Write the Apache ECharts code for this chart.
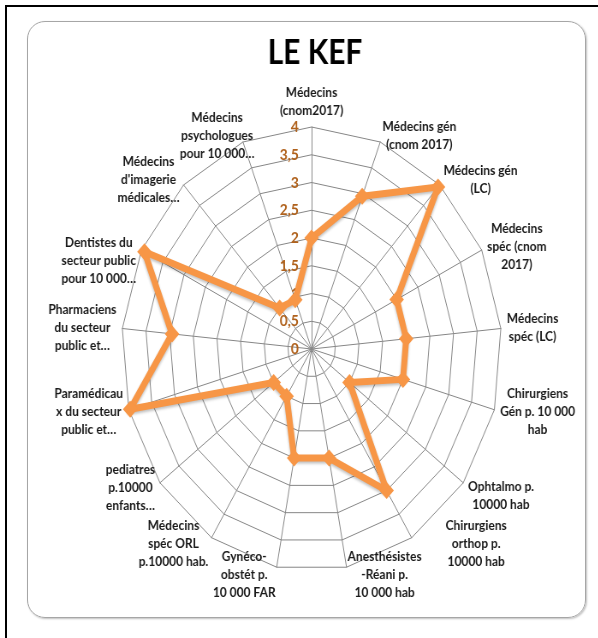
<!DOCTYPE html>
<html>
<head>
<meta charset="utf-8">
<title>LE KEF</title>
<script src="https://cdn.jsdelivr.net/npm/echarts@6/dist/echarts.min.js"></script>
<style>
  html, body { margin: 0; padding: 0; background: #fff; }
  body { width: 598px; height: 638px; position: relative; overflow: hidden; }
  .frame {
    position: absolute; left: 5px; top: 5px; width: 700px; height: 700px;
    border-left: 2px solid #000; border-top: 2px solid #000;
  }
  .card {
    position: absolute; left: 27px; top: 21px; width: 557px; height: 595px;
    border: 1px solid #a6a6a6; border-radius: 18px;
    box-shadow: 1px 1px 2px rgba(0, 0, 0, 0.25);
  }
  /* the source picture is squeezed horizontally, so draw wider and squeeze */
  #chart {
    position: absolute; left: 0; top: 0; width: 699px; height: 638px;
    transform: scaleX(0.856); transform-origin: 0 0;
  }
</style>
</head>
<body>
<div class="frame"></div>
<div class="card"></div>
<div id="chart"></div>
<script>
// axes, clockwise from the top
const categories = [
  "Médecins\n(cnom2017)",
  "Médecins gén\n(cnom 2017)",
  "Médecins gén\n(LC)",
  "Médecins\nspéc (cnom\n2017)",
  "Médecins\nspéc (LC)",
  "Chirurgiens\nGén p. 10 000\nhab",
  "Ophtalmo p.\n10000 hab",
  "Chirurgiens\northop p.\n10000 hab",
  "Anesthésistes\n-Réani p.\n10 000 hab",
  "Gynéco-\nobstét p.\n10 000 FAR",
  "Médecins\nspéc ORL\np.10000 hab.",
  "pediatres\np.10000\nenfants…",
  "Paramédicau\nx du secteur\npublic et…",
  "Pharmaciens\ndu secteur\npublic et…",
  "Dentistes du\nsecteur public\npour 10 000…",
  "Médecins\nd'imagerie\nmédicales…",
  "Médecins\npsychologues\npour 10 000…"
];
const values = [2.0, 2.95, 3.95, 2.0, 2.0, 2.0, 1.0, 3.0, 2.0, 2.0, 1.0, 1.0, 3.97, 2.95, 3.93, 1.0, 0.95];
const axisMax = 4;
const splitCount = 8;

const fontFam = "Lato, 'Liberation Sans', sans-serif";

// ECharts goes round counterclockwise; keep axis 0 on top and reverse the rest
const order = [0].concat(categories.map((c, i) => i).slice(1).reverse());

const indicator = order.map((i, k) => {
  const ind = { name: categories[i], min: 0, max: axisMax };
  if (k === 0) {
    ind.axisLabel = {
      show: true,
      color: "#b0621d",
      fontWeight: "bold",
      fontSize: 16,
      fontFamily: fontFam,
      margin: 15,
      formatter: v => String(v).replace(".", ",")
    };
  }
  return ind;
});

const nameStyle = {
  color: "#1a1a1a",
  fontWeight: "bold",
  fontSize: 14,
  lineHeight: 18,
  fontFamily: fontFam,
  align: "center"
};

// a few names sit a bit off the spot ECharts picks; nudge them with padding
const namePad = {
  6: [16, 0, 0, 0],
  7: [0, 0, 0, 36],
  14: [28, 0, 0, 0],
  16: [0, -16, 0, 0]
};
const rich = { c: nameStyle };
Object.keys(namePad).forEach(k => {
  rich["p" + k] = Object.assign({}, nameStyle, { padding: namePad[k] });
});

let myChart = echarts.init(document.getElementById("chart"));
myChart.setOption({
  animation: false,
  title: {
    text: "LE KEF",
    left: 363,
    top: 30,
    textAlign: "center",
    textStyle: { fontSize: 35, fontWeight: "bold", color: "#000", fontFamily: fontFam }
  },
  radar: {
    center: [364, 349],
    radius: 222,
    startAngle: 90,
    splitNumber: splitCount,
    shape: "polygon",
    indicator: indicator,
    nameGap: 7,
    axisName: {
      color: "#1a1a1a",
      fontWeight: "bold",
      fontSize: 14,
      lineHeight: 18,
      fontFamily: fontFam,
      formatter: function (name) {
        const idx = categories.indexOf(name);
        const key = namePad[idx] ? "p" + idx : "c";
        return "{" + key + "|" + name + "}";
      },
      rich: rich
    },
    splitLine: { lineStyle: { color: "#868686", width: 1 } },
    splitArea: { show: false },
    axisLine: { lineStyle: { color: "#868686", width: 1 } },
    axisTick: { show: false },
    axisLabel: { show: false }
  },
  series: [
    {
      type: "radar",
      symbol: "diamond",
      symbolSize: 17,
      lineStyle: {
        color: "#f79646",
        width: 7,
        shadowColor: "rgba(0,0,0,0.25)",
        shadowBlur: 3,
        shadowOffsetY: 2
      },
      itemStyle: { color: "#f79646" },
      data: [{ name: "LE KEF", value: order.map(i => values[i]) }]
    }
  ]
});
</script>
</body>
</html>
